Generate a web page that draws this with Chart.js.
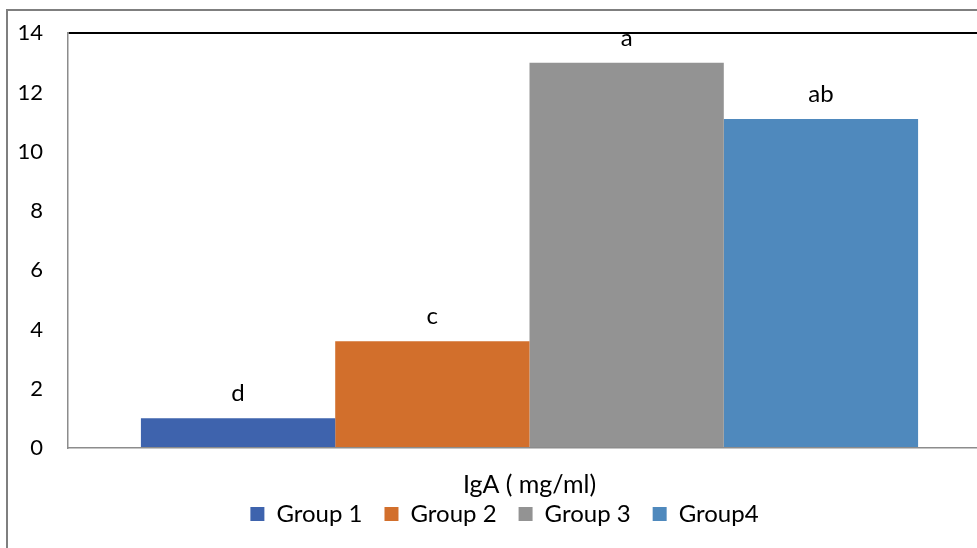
<!DOCTYPE html>
<html>
<head>
<meta charset="utf-8">
<script src="https://cdn.jsdelivr.net/npm/chart.js@4"></script>
<style>
  html, body { margin: 0; padding: 0; background: #fff; overflow: hidden; }
  body { width: 977px; height: 548px; position: relative; }
  .frame {
    position: absolute; left: 6px; top: 9px;
    width: 1100px; height: 700px;
    border: 2px solid #7f7f7f;
  }
  .wrap { position: absolute; left: 0; top: -5px; width: 1014px; height: 553px; }
</style>
</head>
<body>
<div class="frame"></div>
<div class="wrap"><canvas id="myChart" width="1014" height="553"></canvas></div>
<script>
var categories = ['IgA ( mg/ml)'];
var groupNames = ['Group 1', 'Group 2', 'Group 3', 'Group4'];
var groupValues = [1.0, 3.6, 13.0, 11.1];
var groupLetters = ['d', 'c', 'a', 'ab'];
var groupColors = ['#3e63ad', '#d26f2c', '#939393', '#4f89bd'];
var yTicks = [0, 2, 4, 6, 8, 10, 12, 14];

var FONT = "Lato, 'Open Sans', sans-serif";

// letters over each bar, category name under the axis
var letterPlugin = {
  id: 'letters',
  afterDatasetsDraw: function (chart) {
    var ctx = chart.ctx;
    var xScale = chart.scales.x;
    ctx.save();
    ctx.fillStyle = '#000';
    ctx.textAlign = 'center';
    ctx.textBaseline = 'middle';
    ctx.font = '24px ' + FONT;
    chart.data.datasets.forEach(function (ds, i) {
      var bar = chart.getDatasetMeta(i).data[0];
      ctx.fillText(groupLetters[i], bar.x, bar.y - 25);
    });
    ctx.font = '25px ' + FONT;
    categories.forEach(function (name, i) {
      ctx.fillText(name, xScale.getPixelForTick(i), xScale.top + 37);
    });
    ctx.restore();
  }
};

document.addEventListener('DOMContentLoaded', function () {
  var ctx = document.getElementById('myChart').getContext('2d');

  var datasets = groupNames.map(function (name, i) {
    return {
      label: name,
      data: [groupValues[i]],
      backgroundColor: groupColors[i],
      borderWidth: 0,
      categoryPercentage: 0.842,
      barPercentage: 1.0
    };
  });

  new Chart(ctx, {
    type: 'bar',
    data: { labels: categories, datasets: datasets },
    plugins: [letterPlugin],
    options: {
      responsive: false,
      animation: false,
      layout: { padding: { left: 18, right: 23, top: 16, bottom: 12 } },
      plugins: {
        tooltip: { enabled: false },
        legend: {
          position: 'bottom',
          labels: {
            boxWidth: 14,
            boxHeight: 14,
            padding: 22,
            color: '#000',
            font: { family: FONT, size: 24 }
          }
        }
      },
      scales: {
        x: {
          afterFit: function (scale) { scale.height = 32; },
          grid: { display: true, drawOnChartArea: false, drawTicks: false },
          border: { display: true, color: '#8c8c8c', width: 1.5 },
          ticks: { display: false }
        },
        y: {
          min: 0,
          max: 14,
          afterFit: function (scale) { scale.width = 50; },
          afterBuildTicks: function (scale) {
            scale.ticks = yTicks.map(function (v) { return { value: v }; });
          },
          grid: {
            drawTicks: false,
            lineWidth: 2,
            color: function (c) {
              return c.tick && c.tick.value === 14 ? '#000' : 'rgba(0,0,0,0)';
            }
          },
          border: { display: true, color: '#8c8c8c', width: 1.5 },
          ticks: { color: '#000', padding: 25, font: { family: FONT, size: 22 } }
        }
      }
    }
  });
});
</script>
</body>
</html>
